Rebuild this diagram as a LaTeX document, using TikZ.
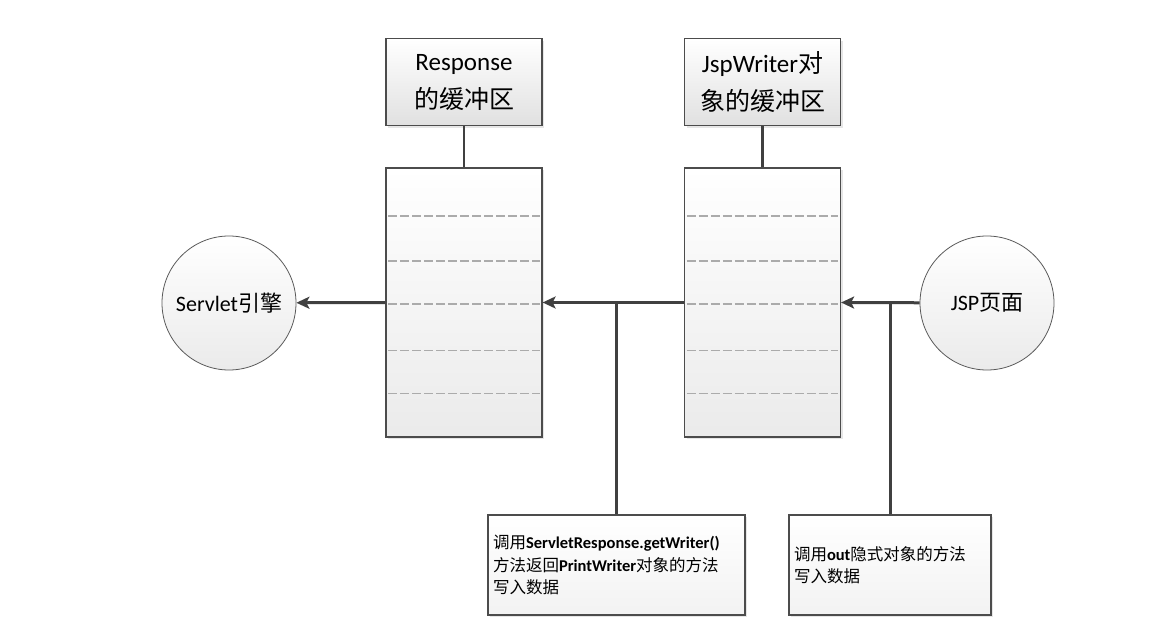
\documentclass[tikz,border=0pt]{standalone}
\usepackage{fontspec}
\setmainfont{Carlito}
\newfontfamily\cjk{Noto Sans CJK SC}
\usetikzlibrary{arrows.meta,positioning,shadows}
\newcommand{\zh}[1]{{\cjk #1}}

\begin{document}
\begin{tikzpicture}[x=1pt,y=-1pt,node distance=41pt,
 box/.style={draw=black!70,line width=1.2pt,inner sep=0pt,align=center,
  drop shadow={opacity=0.2,shadow xshift=2pt,shadow yshift=-2pt}},
 head/.style={box,minimum width=156pt,minimum height=87pt,top color=white,bottom color=black!12,
  font=\fontsize{25}{38}\selectfont},
 buffer/.style={box,minimum width=156pt,minimum height=269pt,top color=white,bottom color=black!8},
 circ/.style={circle,draw=black!65,line width=0.8pt,minimum size=134pt,inner sep=0pt,
  top color=white,bottom color=black!8,font=\fontsize{22}{26}\selectfont},
 note/.style={box,minimum height=100pt,inner xsep=5pt,align=left,top color=white,bottom color=black!5,
  font=\fontsize{16.5}{22.5}\selectfont},
 sep/.style={draw=black!33,line width=1.8pt,dash pattern=on 9pt off 3pt},
 link/.style={draw=black!75,line width=2.2pt},
 conn/.style={draw=black!75,line width=3pt},
 arr/.style={conn,-{Stealth[length=13pt,width=12pt,inset=3pt]}}]
\useasboundingbox (0,0) rectangle (1167,636);
% buffers and their headers
\node[buffer] (resp) at (464,302.5) {};
\node[buffer] (jspw) at (762.5,302.5) {};
\node[head,above=of resp] (resphead) {Response\\\zh{的缓冲区}};
\node[head,above=of jspw] (jspwhead) {JspWriter\zh{对}\\\zh{象的缓冲区}};
\foreach \b in {resp,jspw}
 \foreach \d in {49,94,137,183,226}
  \draw[sep] ([xshift=3pt,yshift=-\d pt]\b.north west) -- ([xshift=-3pt,yshift=-\d pt]\b.north east);
% ends
\node[circ] (servlet) at (229,303) {Servlet\zh{引擎}};
\node[circ] (jsp) at (987,303) {JSP\zh{页面}};
% notes
\node[note,text width=247pt] (callA) at (616.5,565) {\zh{调用}\textbf{ServletResponse.getWriter()}\\\zh{方法返回}\textbf{PrintWriter}\zh{对象的方法}\\\zh{写入数据}};
\node[note,text width=192pt] (callB) at (890,565) {\zh{调用}\textbf{out}\zh{隐式对象的方法}\\\zh{写入数据}};
% connectors
\draw[link] (resphead) -- (resp);
\draw[link] (jspwhead) -- (jspw);
\draw[arr] (resp.west) -- (servlet);
\draw[arr] (jspw.west) -- (resp.east);
\draw[arr] (jsp) -- (jspw.east);
\draw[conn] (callA.north) -- (callA.north |- jspw.west);
\draw[conn] (callB.north) -- (callB.north |- jspw.east);
\end{tikzpicture}
\end{document}
